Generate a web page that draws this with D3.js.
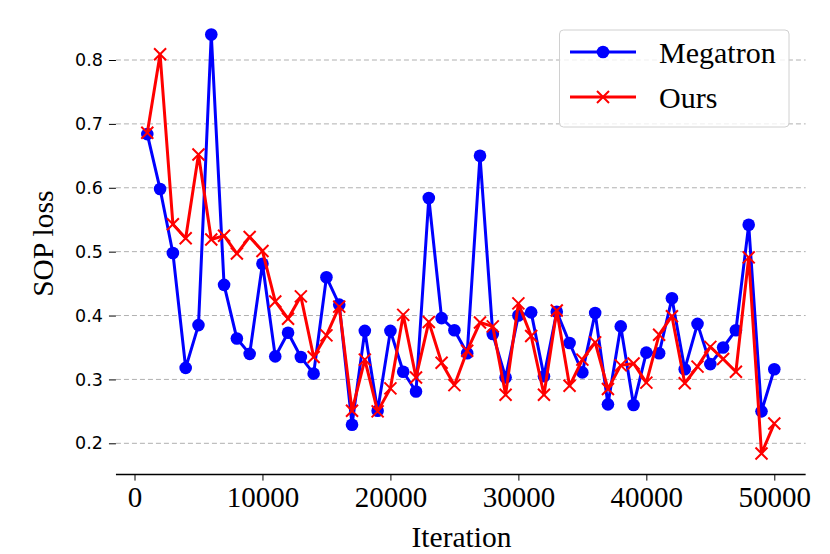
<!DOCTYPE html>
<html>
<head>
<meta charset="utf-8">
<script src="https://cdn.jsdelivr.net/npm/d3@7"></script>
<style>
  html, body { margin: 0; padding: 0; background: #fff; }
  svg { display: block; }
</style>
</head>
<body>
<svg id="chart" width="830" height="554"></svg>
<script>
const iterations = [1000,2000,3000,4000,5000,6000,7000,8000,9000,10000,
  11000,12000,13000,14000,15000,16000,17000,18000,19000,20000,
  21000,22000,23000,24000,25000,26000,27000,28000,29000,30000,
  31000,32000,33000,34000,35000,36000,37000,38000,39000,40000,
  41000,42000,43000,44000,45000,46000,47000,48000,49000,50000];
const megatron = [0.684,0.598,0.498,0.318,0.385,0.840,0.448,0.364,0.340,0.481,
  0.336,0.373,0.335,0.309,0.460,0.417,0.229,0.376,0.251,0.376,
  0.312,0.281,0.584,0.396,0.377,0.341,0.650,0.371,0.303,0.400,
  0.405,0.305,0.406,0.357,0.311,0.404,0.261,0.383,0.260,0.342,
  0.341,0.427,0.316,0.387,0.324,0.350,0.377,0.542,0.250,0.316];
const ours = [0.686,0.809,0.543,0.521,0.652,0.519,0.525,0.497,0.523,0.501,
  0.422,0.395,0.430,0.335,0.369,0.414,0.251,0.331,0.250,0.286,
  0.401,0.303,0.390,0.326,0.291,0.345,0.389,0.383,0.276,0.419,
  0.368,0.276,0.408,0.290,0.331,0.358,0.285,0.322,0.325,0.295,
  0.370,0.399,0.294,0.320,0.351,0.332,0.312,0.491,0.184,0.231];
const xTicks = [0,10000,20000,30000,40000,50000];
const yTicks = [0.2,0.3,0.4,0.5,0.6,0.7,0.8];
const seriesNames = ["Megatron","Ours"];

const svg = d3.select("#chart");
const serif = "'Liberation Serif','Times New Roman',serif";
const sans = "'DejaVu Sans',sans-serif";

const x = d3.scaleLinear().domain([0, 50000]).range([134.5, 774.3]);
const y = d3.scaleLinear().domain([0.2, 0.8]).range([443.3, 60]);
const xMin = -1450, xMax = 52450, yMin = 0.151;

// grid
svg.append("g").selectAll("line").data(yTicks).join("line")
  .attr("x1", x(xMin)).attr("x2", x(xMax))
  .attr("y1", d => y(d)).attr("y2", d => y(d))
  .attr("stroke", "#b0b0b0").attr("stroke-width", 1)
  .attr("stroke-dasharray", "5,3");

// y axis (no spine)
const yAxis = svg.append("g").attr("transform", `translate(${x(xMin)},0)`)
  .call(d3.axisLeft(y).tickValues(yTicks).tickFormat(d3.format(".1f")).tickSize(7).tickPadding(6));
yAxis.select(".domain").remove();
yAxis.selectAll(".tick line").attr("stroke", "#000").attr("stroke-width", 1);
yAxis.selectAll(".tick text").attr("font-family", sans).attr("font-size", 17.5).attr("fill", "#000");

// x axis
const xAxis = svg.append("g").attr("transform", `translate(0,${y(yMin)})`)
  .call(d3.axisBottom(x).tickValues(xTicks).tickFormat(d3.format("d")).tickSize(6).tickSizeOuter(0).tickPadding(6));
xAxis.select(".domain").attr("d", `M${x(xMin)},0H${x(xMax)}`).attr("stroke", "#000").attr("stroke-width", 1.5);
xAxis.selectAll(".tick line").attr("stroke", "#000").attr("stroke-width", 1);
xAxis.selectAll(".tick text").attr("font-family", serif).attr("font-size", 29).attr("fill", "#000");

// axis labels
svg.append("text").attr("x", 461.5).attr("y", 546.5)
  .attr("text-anchor", "middle").attr("font-family", serif).attr("font-size", 29.5)
  .text("Iteration");
svg.append("text").attr("transform", `translate(53,${(y(0.8)+y(0.2))/2 - 8}) rotate(-90)`)
  .attr("text-anchor", "middle").attr("font-family", serif).attr("font-size", 29.5)
  .text("SOP loss");

const line = d3.line().x((d, i) => x(iterations[i])).y(d => y(d));

// Megatron
svg.append("path").datum(megatron).attr("d", line)
  .attr("fill", "none").attr("stroke", "#0000ff").attr("stroke-width", 3).attr("stroke-linejoin", "round");
svg.append("g").selectAll("circle").data(megatron).join("circle")
  .attr("cx", (d, i) => x(iterations[i])).attr("cy", d => y(d)).attr("r", 6.3)
  .attr("fill", "#0000ff");

// Ours
svg.append("path").datum(ours).attr("d", line)
  .attr("fill", "none").attr("stroke", "#ff0000").attr("stroke-width", 3).attr("stroke-linejoin", "round");
const s = 6;
svg.append("g").selectAll("path").data(ours).join("path")
  .attr("d", (d, i) => {
    const cx = x(iterations[i]), cy = y(d);
    return `M${cx-s},${cy-s}L${cx+s},${cy+s}M${cx-s},${cy+s}L${cx+s},${cy-s}`;
  })
  .attr("stroke", "#ff0000").attr("stroke-width", 2).attr("fill", "none");

// legend
const lg = svg.append("g");
lg.append("rect").attr("x", 559.5).attr("y", 30).attr("width", 229.5).attr("height", 97)
  .attr("rx", 4).attr("fill", "#fff").attr("fill-opacity", 0.8)
  .attr("stroke", "#d0d0d0").attr("stroke-width", 1);
const colors = ["#0000ff", "#ff0000"];
const rowsY = [52, 97];
seriesNames.forEach((name, k) => {
  const ly = rowsY[k];
  lg.append("line").attr("x1", 570).attr("x2", 636).attr("y1", ly).attr("y2", ly)
    .attr("stroke", colors[k]).attr("stroke-width", 3);
  if (k === 0) {
    lg.append("circle").attr("cx", 603).attr("cy", ly).attr("r", 6.3).attr("fill", colors[k]);
  } else {
    lg.append("path").attr("d", `M${603-s},${ly-s}L${603+s},${ly+s}M${603-s},${ly+s}L${603+s},${ly-s}`)
      .attr("stroke", colors[k]).attr("stroke-width", 2);
  }
  lg.append("text").attr("x", 659).attr("y", ly + 10.5)
    .attr("font-family", serif).attr("font-size", 30).text(name);
});
</script>
</body>
</html>
